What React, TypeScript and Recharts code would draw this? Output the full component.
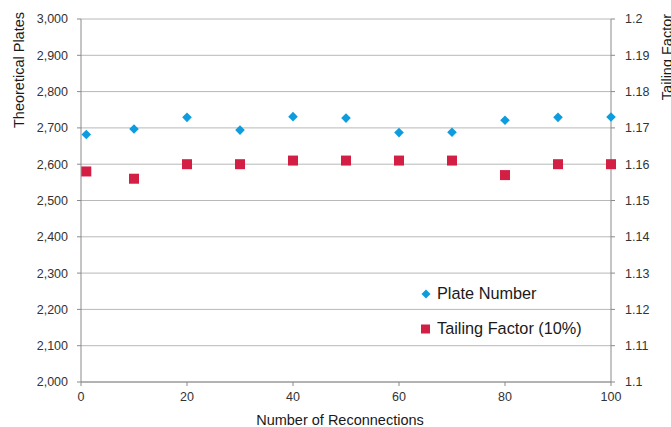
import React from 'react';
import { ComposedChart, Scatter, XAxis, YAxis, CartesianGrid, Legend } from 'recharts';

const reconnections = [1, 10, 20, 30, 40, 50, 60, 70, 80, 90, 100];
const plateNumber = [2682, 2697, 2729, 2694, 2731, 2727, 2687, 2688, 2721, 2729, 2730];
const tailingFactor = [1.158, 1.156, 1.16, 1.16, 1.161, 1.161, 1.161, 1.161, 1.157, 1.16, 1.16];
const xTicks = [0, 20, 40, 60, 80, 100];
const leftTicks = [2000, 2100, 2200, 2300, 2400, 2500, 2600, 2700, 2800, 2900, 3000];
const rightTicks = [1.1, 1.11, 1.12, 1.13, 1.14, 1.15, 1.16, 1.17, 1.18, 1.19, 1.2];

const BLUE = '#0d9ddf';
const RED = '#d41f45';
const FONT = '"Liberation Sans", Arial, sans-serif';

const data = reconnections.map((r, i) => ({ run: r, plate: plateNumber[i], tf: tailingFactor[i] }));

const Diamond = (props: any) => {
  const { cx, cy } = props;
  const s = 4.8;
  return <path d={`M${cx},${cy - s}L${cx + s},${cy}L${cx},${cy + s}L${cx - s},${cy}Z`} fill={BLUE} />;
};
const Square = (props: any) => {
  const { cx, cy } = props;
  const s = 5;
  return <rect x={cx - s} y={cy - s} width={2 * s} height={2 * s} fill={RED} />;
};

const legendItems = [
  { name: 'Plate Number', color: BLUE, shape: 'diamond' },
  { name: 'Tailing Factor (10%)', color: RED, shape: 'square' },
];

const LegendContent = () => (
  <div style={{ fontFamily: FONT, fontSize: 16.3, color: '#1a1a1a' }}>
    {legendItems.map((it) => (
      <div key={it.name} style={{ display: 'flex', alignItems: 'center', height: 35 }}>
        <svg width={14} height={12} style={{ marginRight: 4 }}>
          {it.shape === 'diamond' ? (
            <path d="M7,1.5L11.5,6L7,10.5L2.5,6Z" fill={it.color} />
          ) : (
            <rect x={2} y={1.5} width={9} height={9} fill={it.color} />
          )}
        </svg>
        <span>{it.name}</span>
      </div>
    ))}
  </div>
);

const tickStyle = { fontSize: 12.5, fill: '#333', fontFamily: FONT };
const fmtLeft = (v: number) => v.toLocaleString('en-US');
const fmtRight = (v: number) => String(Math.round(v * 100) / 100);
const titleStyle = { fontSize: 14.5, fill: '#1a1a1a', fontFamily: FONT };

export default function App() {
  return (
    <div style={{ position: 'absolute', left: 0, top: 0, width: 671, height: 427, background: '#fff', overflow: 'hidden' }}>
      <ComposedChart width={671} height={427} data={data} margin={{ top: 19, right: 0, bottom: 0, left: 0 }}>
        <CartesianGrid horizontal vertical={false} stroke="#b8b8b8" yAxisId="left" />
        <XAxis
          dataKey="run"
          type="number"
          domain={[0, 100]}
          ticks={xTicks}
          height={45}
          tickSize={4}
          tickMargin={6}
          tick={tickStyle}
          stroke="#8a8a8a"
          label={(p: any) => {
            const vb = p.viewBox;
            const cx = vb.x + vb.width / 2 - 6;
            const cy = vb.y + 38;
            return (
              <text x={cx} y={cy} textAnchor="middle" dominantBaseline="central" style={titleStyle}>
                Number of Reconnections
              </text>
            );
          }}
        />
        <YAxis
          yAxisId="left"
          orientation="left"
          domain={[2000, 3000]}
          ticks={leftTicks}
          width={81}
          tickSize={4}
          tickMargin={9}
          tick={tickStyle}
          tickFormatter={fmtLeft}
          stroke="#8a8a8a"
          label={(p: any) => {
            const vb = p.viewBox;
            const cx = vb.x + 19;
            const cy = vb.y + 51;
            return (
              <text x={cx} y={cy} transform={`rotate(-90 ${cx} ${cy})`} textAnchor="middle" dominantBaseline="central" style={titleStyle}>
                Theoretical Plates
              </text>
            );
          }}
        />
        <YAxis
          yAxisId="right"
          orientation="right"
          domain={[1.1, 1.2]}
          ticks={rightTicks}
          width={60}
          tickSize={4}
          tickMargin={10}
          tick={tickStyle}
          tickFormatter={fmtRight}
          stroke="#8a8a8a"
          label={(p: any) => {
            const vb = p.viewBox;
            const cx = vb.x + 56;
            const cy = vb.y + 38;
            return (
              <text x={cx} y={cy} transform={`rotate(-90 ${cx} ${cy})`} textAnchor="middle" dominantBaseline="central" style={titleStyle}>
                Tailing Factor
              </text>
            );
          }}
        />
        <Scatter name="Plate Number" dataKey="plate" yAxisId="left" fill={BLUE} shape={Diamond} isAnimationActive={false} />
        <Scatter name="Tailing Factor (10%)" dataKey="tf" yAxisId="right" fill={RED} shape={Square} isAnimationActive={false} />
        <Legend
          layout="vertical"
          align="center"
          verticalAlign="middle"
          content={LegendContent}
          wrapperStyle={{ position: 'absolute', left: 419, top: 276, width: 220 }}
        />
      </ComposedChart>
    </div>
  );
}
